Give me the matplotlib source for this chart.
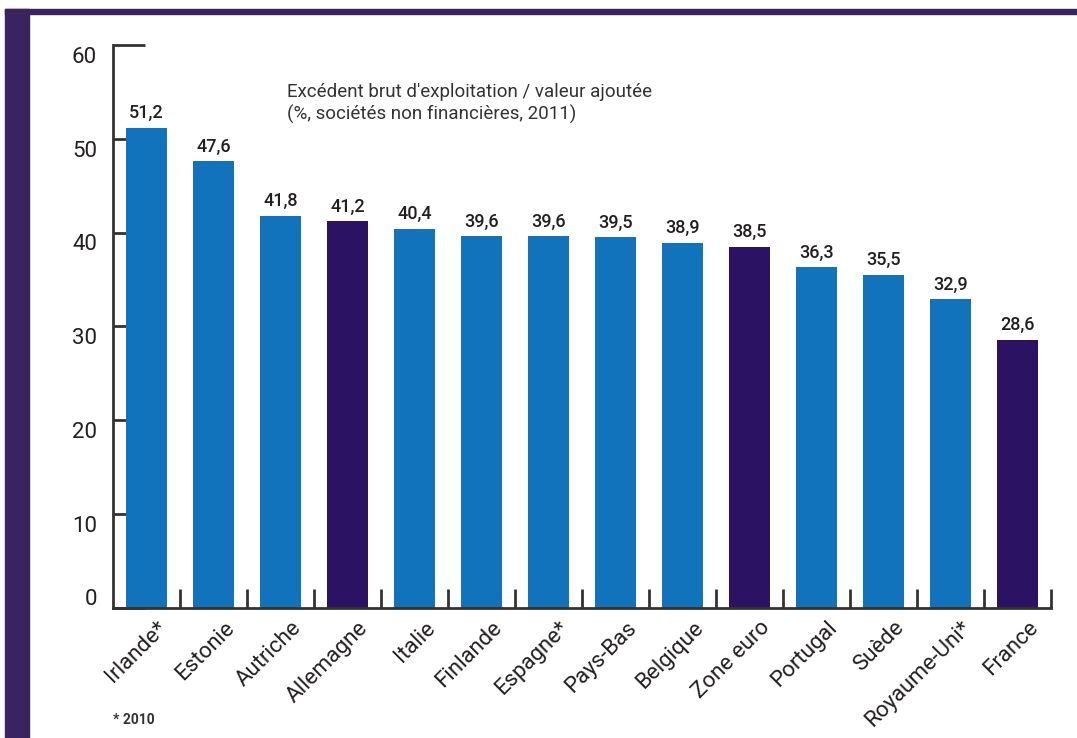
import numpy as np
import matplotlib.pyplot as plt
from matplotlib.patches import Rectangle
from matplotlib.transforms import ScaledTranslation

pays = ["Irlande*", "Estonie", "Autriche", "Allemagne", "Italie", "Finlande",
        "Espagne*", "Pays-Bas", "Belgique", "Zone euro", "Portugal", "Suède",
        "Royaume-Uni*", "France"]
valeurs = [51.2, 47.6, 41.8, 41.2, 40.4, 39.6, 39.6, 39.5, 38.9, 38.5,
           36.3, 35.5, 32.9, 28.6]
en_avant = ["Allemagne", "Zone euro", "France"]
yticks = [0, 10, 20, 30, 40, 50, 60]

bleu = "#1173BB"
violet = "#2C1262"
cadre = "#3A2460"
texte = "#231F20"

plt.rcParams['font.family'] = ['Roboto', 'DejaVu Sans']

fig = plt.figure(figsize=(10.77, 7.38), dpi=100)
ax = fig.add_axes([0.1049, 0.1762, 0.871, 0.7629])

# cadre violet (bande gauche + bande haute)
fig.patches.append(Rectangle((5/1077, 0), 24/1077, 1 - 9/738,
                             transform=fig.transFigure, color=cadre, zorder=0))
fig.patches.append(Rectangle((5/1077, 1 - 14/738), 1072/1077, 5/738,
                             transform=fig.transFigure, color=cadre, zorder=0))

x = np.arange(len(pays))
couleurs = [violet if p in en_avant else bleu for p in pays]
ax.bar(x, valeurs, width=0.61, color=couleurs, zorder=2)

for xi, v in zip(x, valeurs):
    ax.text(xi, v + 0.6, ("%.1f" % v).replace(".", ","), ha="center", va="bottom",
            fontsize=13, fontweight="medium", color=texte)

ax.set_xlim(-0.5, len(pays) - 0.5)
ax.set_ylim(0, 60)
ax.spines["top"].set_visible(False)
ax.spines["right"].set_visible(False)
for s in ["left", "bottom"]:
    ax.spines[s].set_color("#333333")
    ax.spines[s].set_linewidth(2)

ax.set_yticks(yticks)
ax.set_yticklabels([str(t) for t in yticks], fontsize=16, color=texte)
ax.tick_params(axis="y", direction="in", length=23, width=2, color="#333333", pad=11.5)
for t, lab in zip(yticks, ax.get_yticklabels()):
    dy = 8/72 if t == 0 else -7/72
    lab.set_transform(lab.get_transform() + ScaledTranslation(0, dy, fig.dpi_scale_trans))

ax.set_xticks(np.arange(len(pays)) + 0.5)
ax.set_xticklabels([])
ax.tick_params(axis="x", direction="in", length=14, width=2, color="#333333")
for xi, p in zip(x, pays):
    ax.text(xi + 0.15, -1.0, p, rotation=45, ha="right", va="top",
            rotation_mode="anchor", fontsize=16, color=texte)

ax.text(2.1, 53.8, "Excédent brut d'exploitation / valeur ajoutée\n(%, sociétés non financières, 2011)",
        fontsize=13.5, color="#333333", va="center", linespacing=1.25)

fig.text(113/1077, 1 - 720/738, "* 2010", fontsize=10, fontweight="bold",
         color="#333333", va="center")

fig.savefig("out.png", dpi=100)
